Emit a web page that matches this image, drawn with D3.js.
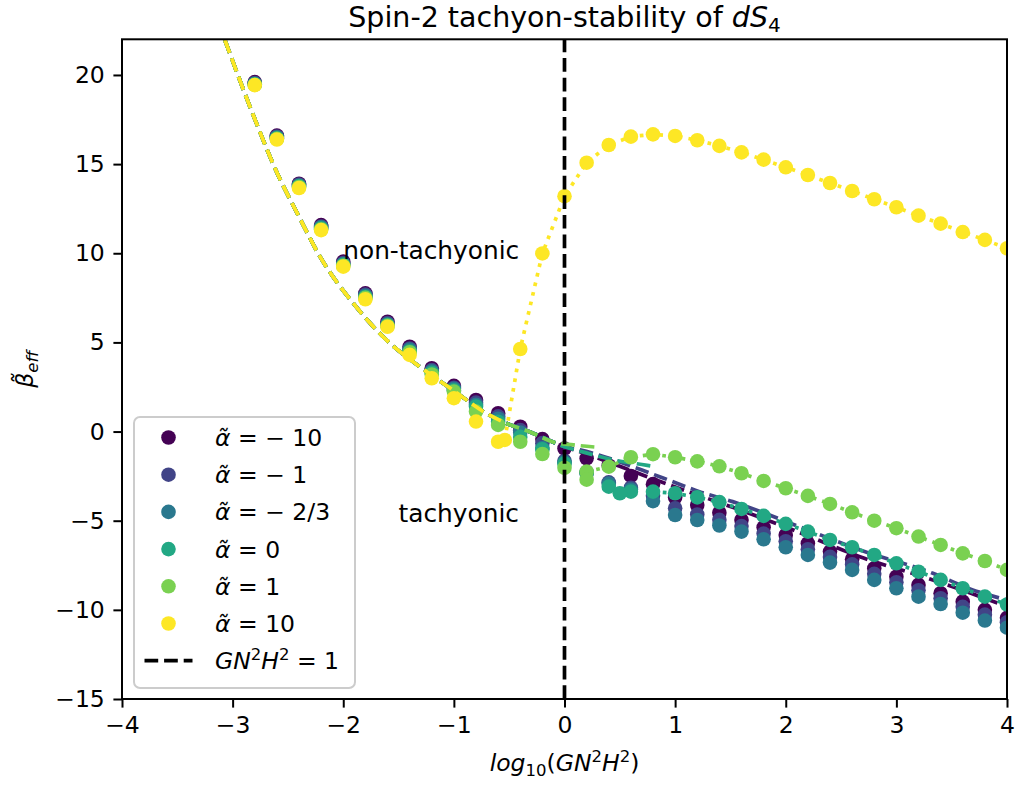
<!DOCTYPE html>
<html>
<head>
<meta charset="utf-8">
<script src="https://cdn.jsdelivr.net/npm/d3@7"></script>
<style>
  body { margin: 0; background: #fff; }
  text { font-family: "DejaVu Sans", sans-serif; fill: #000; }
</style>
</head>
<body>
<svg id="chart" width="1015" height="785"></svg>
<script>
// ---- sampled values of log10(G N^2 H^2) ----
const logGH2 = [-2.8,-2.6,-2.4,-2.2,-2.0,-1.8,-1.6,-1.4,-1.2,-1.0,-0.8,-0.6,-0.4,-0.2,0,
                0.2,0.4,0.6,0.8,1.0,1.2,1.4,1.6,1.8,2.0,2.2,2.4,2.6,2.8,3.0,3.2,3.4,3.6,3.8,4.0];

// ---- effective beta for each alpha ----
const betaAm10 = [19.6,16.6,13.9,11.58,9.53,7.75,6.16,4.76,3.55,2.56,1.77,1.03,0.27,-0.42,-0.95,
                  -1.5,-1.9,-2.49,-2.95,-3.7,-4.12,-4.55,-4.96,-5.37,-5.8,-6.27,-6.73,-7.16,-7.67,-8.14,-8.6,-9.07,-9.54,-10.0,-10.45];
const betaAm1  = [19.55,16.55,13.85,11.5,9.45,7.68,6.08,4.66,3.45,2.46,1.62,0.85,0.08,-0.65,-1.65,
                  -2.28,-2.85,-3.15,-3.6,-4.3,-4.65,-4.95,-5.3,-5.72,-6.15,-6.6,-7.03,-7.45,-7.98,-8.45,-8.9,-9.35,-9.83,-10.27,-10.7];
const betaAm23 = [19.5,16.5,13.8,11.45,9.4,7.62,6.02,4.6,3.38,2.4,1.5,0.72,-0.05,-0.92,-1.72,
                  -2.35,-2.92,-3.25,-3.9,-4.68,-4.96,-5.27,-5.61,-6.04,-6.49,-6.92,-7.35,-7.76,-8.32,-8.79,-9.26,-9.67,-10.16,-10.6,-11.0];
const betaA0   = [19.48,16.45,13.75,11.4,9.35,7.55,5.97,4.5,3.3,2.32,1.4,0.55,-0.3,-1.0,-1.8,
                  -2.3,-3.09,-3.37,-3.37,-3.46,-3.69,-3.96,-4.34,-4.73,-5.18,-5.61,-6.08,-6.49,-6.92,-7.39,-7.86,-8.32,-8.79,-9.26,-9.7];
const betaA1   = [19.45,16.42,13.72,11.35,9.3,7.5,5.93,4.45,3.2,2.24,1.12,0.37,-0.57,-1.26,-2.03,
                  -2.25,-1.97,-1.44,-1.27,-1.44,-1.67,-1.95,-2.34,-2.77,-3.18,-3.61,-4.06,-4.53,-5.0,-5.42,-5.89,-6.36,-6.83,-7.26,-7.76];
const betaA10  = [19.43,16.38,13.66,11.3,9.25,7.42,5.88,4.3,2.99,1.87,0.56,-0.57,4.63,9.99,13.2,
                  15.08,16.07,16.54,16.67,16.58,16.34,16.02,15.66,15.25,14.82,14.39,13.94,13.49,13.03,12.58,12.11,11.66,11.19,10.75,10.28];

// additional solutions found off the regular grid
const extraA0  = [[0.5, -3.46]];
const extraA1  = [[0.2, -2.7]];
const extraA10 = [[-0.54, -0.47]];

// ---- small-curvature approximation (shared branch) ----
const approxX = [-3.07,-2.82,-2.61,-2.4,-2.21,-1.91,-1.61,-1.31,-1.01,-0.71,-0.53,-0.3,-0.11,0];
const approxY = [21.96,17.85,14.67,12.05,9.81,7.2,5.14,3.64,2.33,1.03,0.47,-0.05,-0.57,-0.85];

// ---- large-curvature continuations of the approximation ----
const tailAm10X = [0,0.14,0.5,0.95,1.52,2.12,2.67,3.33,4.0];
const tailAm10Y = [-0.85,-1.13,-1.95,-3.0,-4.25,-5.65,-7.02,-8.32,-9.82];
const tailAm1X  = [0,0.14,0.86,1.22,1.52,2.12,2.67,3.33,3.69,4.0];
const tailAm1Y  = [-0.85,-1.03,-2.53,-3.37,-3.93,-5.33,-6.64,-7.95,-8.88,-9.45];
const tailA0X   = [0,0.14,0.45,0.7,0.8];
const tailA0Y   = [-0.85,-1.1,-1.6,-1.85,-1.95];
const tailA1X   = [0.08,0.3];
const tailA1Y   = [-0.75,-0.88];

// ---- axes ----
const xTicks = [-4,-3,-2,-1,0,1,2,3,4];
const yTicks = [-15,-10,-5,0,5,10,15,20];
const xDomain = [-4, 4];
const yDomain = [-15, 22];

const alphaLabels = ["\u2212 10", "\u2212 1", "\u2212 2/3", "0", "1", "10"];
const alphaColors = ["#440154", "#414487", "#2a788e", "#22a884", "#7ad151", "#fde725"];

// ---------------------------------------------------------------
const W = 1015, H = 785;
const plot = { left: 122, right: 1007, top: 39.3, bottom: 699 };
const FS = 23.5;          // tick / legend font size (10pt)
const FS_NOTE = 24.8;     // region annotations
const LW = 3.7;           // default line width (1.5pt)
const DASH = `${(3.7*LW).toFixed(1)},${(1.6*LW).toFixed(1)}`;
const DOT  = `${(1*LW).toFixed(1)},${(1.65*LW).toFixed(1)}`;
const R = 7.3;

const svg = d3.select("#chart");
const x = d3.scaleLinear().domain(xDomain).range([plot.left, plot.right]);
const y = d3.scaleLinear().domain(yDomain).range([plot.bottom, plot.top]);

const zip = (xs, ys) => xs.map((v, i) => [v, ys[i]]);
const approxPts = zip(approxX, approxY);
const gridPts = ys => zip(logGH2, ys);

const series = [
  { beta: betaAm10, extra: [], approx: approxPts.filter(d => d[0] < 0).concat(zip(tailAm10X, tailAm10Y)), dotted: [] },
  { beta: betaAm1,  extra: [], approx: approxPts.filter(d => d[0] < 0).concat(zip(tailAm1X, tailAm1Y)), dotted: [] },
  { beta: betaAm23, extra: [], approx: approxPts, dotted: [] },
  { beta: betaA0,   extra: extraA0, approx: approxPts.filter(d => d[0] < 0).concat(zip(tailA0X, tailA0Y)),
    dotted: gridPts(betaA0).filter(d => d[0] >= 0.8) },
  { beta: betaA1,   extra: extraA1, approx: approxPts.filter(d => d[0] <= -0.11).concat(zip(tailA1X, tailA1Y)),
    dotted: gridPts(betaA1).filter(d => d[0] >= 0.2) },
  { beta: betaA10,  extra: extraA10, approx: approxPts.filter(d => d[0] <= -0.53),
    dotted: extraA10.concat(gridPts(betaA10).filter(d => d[0] >= -0.4)) }
];
series.forEach((s, i) => { s.color = alphaColors[i]; s.label = alphaLabels[i]; });

const clipId = "plotclip";
svg.append("defs").append("clipPath").attr("id", clipId)
  .append("rect").attr("x", plot.left).attr("y", plot.top)
  .attr("width", plot.right - plot.left).attr("height", plot.bottom - plot.top);

const line = d3.line().x(d => x(d[0])).y(d => y(d[1])).curve(d3.curveMonotoneX);
const straight = d3.line().x(d => x(d[0])).y(d => y(d[1]));

const gData = svg.append("g").attr("clip-path", `url(#${clipId})`);

series.forEach(s => {
  gData.append("path").attr("d", line(s.approx))
    .attr("fill", "none").attr("stroke", s.color)
    .attr("stroke-width", LW).attr("stroke-dasharray", DASH);
  if (s.dotted.length) {
    gData.append("path").attr("d", straight(s.dotted))
      .attr("fill", "none").attr("stroke", s.color)
      .attr("stroke-width", LW).attr("stroke-dasharray", DOT);
  }
  const pts = gridPts(s.beta).concat(s.extra);
  gData.append("g").selectAll("circle").data(pts).join("circle")
    .attr("cx", d => x(d[0])).attr("cy", d => y(d[1])).attr("r", R)
    .attr("fill", s.color);
});

// G N^2 H^2 = 1
gData.append("line")
  .attr("x1", x(0)).attr("x2", x(0)).attr("y1", plot.bottom).attr("y2", plot.top)
  .attr("stroke", "#000").attr("stroke-width", LW).attr("stroke-dasharray", DASH);

// ---- region annotations ----
svg.append("text").attr("x", x(-2)).attr("y", y(10.2)).attr("dy", "0.36em")
  .attr("font-size", FS_NOTE).text("non-tachyonic");
svg.append("text").attr("x", x(-1.5)).attr("y", y(-4.6)).attr("dy", "0.36em")
  .attr("font-size", FS_NOTE).text("tachyonic");

// ---- axes ----
const tickLen = 8.6, tickPad = 8.6;
const xAxis = d3.axisBottom(x).tickValues(xTicks).tickSize(tickLen).tickPadding(tickPad)
  .tickFormat(d => d < 0 ? "\u2212" + Math.abs(d) : String(d));
const yAxis = d3.axisLeft(y).tickValues(yTicks).tickSize(tickLen).tickPadding(tickPad)
  .tickFormat(d => d < 0 ? "\u2212" + Math.abs(d) : String(d));

const gx = svg.append("g").attr("transform", `translate(0,${plot.bottom})`).call(xAxis);
const gy = svg.append("g").attr("transform", `translate(${plot.left},0)`).call(yAxis);
[gx, gy].forEach(g => {
  g.select(".domain").remove();
  g.selectAll(".tick line").attr("stroke", "#000").attr("stroke-width", 2);
  g.selectAll(".tick text").attr("font-size", FS).attr("font-family", "DejaVu Sans").attr("fill", "#000");
});

svg.append("rect").attr("x", plot.left).attr("y", plot.top)
  .attr("width", plot.right - plot.left).attr("height", plot.bottom - plot.top)
  .attr("fill", "none").attr("stroke", "#000").attr("stroke-width", 2);

// ---- title ----
const title = svg.append("text").attr("x", (plot.left + plot.right) / 2).attr("y", 27)
  .attr("text-anchor", "middle").attr("font-size", 28.5);
title.append("tspan").text("Spin-2 tachyon-stability of ");
title.append("tspan").attr("font-style", "italic").text("dS");
title.append("tspan").attr("font-size", 20).attr("dy", 5).text("4");

// ---- x label ----
const xl = svg.append("text").attr("x", (plot.left + plot.right) / 2).attr("y", 771)
  .attr("text-anchor", "middle").attr("font-size", FS);
xl.append("tspan").attr("font-style", "italic").text("log");
xl.append("tspan").attr("font-size", 16.5).attr("dy", 5).text("10");
xl.append("tspan").attr("dy", -5).text("(");
xl.append("tspan").attr("font-style", "italic").text("GN");
xl.append("tspan").attr("font-size", 16.5).attr("dy", -9).text("2");
xl.append("tspan").attr("font-style", "italic").attr("dy", 9).text("H");
xl.append("tspan").attr("font-size", 16.5).attr("dy", -9).text("2");
xl.append("tspan").attr("dy", 9).text(")");

// ---- y label ----
const yl = svg.append("text")
  .attr("transform", `translate(33,${(plot.top + plot.bottom) / 2}) rotate(-90)`)
  .attr("text-anchor", "middle").attr("font-size", FS);
yl.append("tspan").attr("font-style", "italic").text("\u03B2\u0303");
yl.append("tspan").attr("font-style", "italic").attr("font-size", 16.5).attr("dy", 5).text("eff");

// ---- legend ----
const lg = svg.append("g");
const lgBox = { x: 134, y: 417, w: 221, h: 271 };
lg.append("rect").attr("x", lgBox.x).attr("y", lgBox.y).attr("width", lgBox.w).attr("height", lgBox.h)
  .attr("rx", 6).attr("fill", "#fff").attr("fill-opacity", 0.8)
  .attr("stroke", "#cccccc").attr("stroke-width", 2);
const rowH = 37.2, row0 = 437.5, mX = 168.5, tX = 215;
series.forEach((s, i) => {
  const cy = row0 + i * rowH;
  lg.append("circle").attr("cx", mX).attr("cy", cy).attr("r", R).attr("fill", s.color);
  const t = lg.append("text").attr("x", tX).attr("y", cy).attr("dy", "0.36em").attr("font-size", FS);
  t.append("tspan").attr("font-style", "italic").text("\u03B1\u0303");
  t.append("tspan").text(" = " + s.label);
});
{
  const cy = row0 + 6 * rowH;
  lg.append("line").attr("x1", mX - 24).attr("x2", mX + 24).attr("y1", cy).attr("y2", cy)
    .attr("stroke", "#000").attr("stroke-width", LW).attr("stroke-dasharray", DASH);
  const t = lg.append("text").attr("x", tX).attr("y", cy).attr("dy", "0.36em").attr("font-size", FS);
  t.append("tspan").attr("font-style", "italic").text("GN");
  t.append("tspan").attr("font-size", 16.5).attr("dy", -9).text("2");
  t.append("tspan").attr("font-style", "italic").attr("dy", 9).text("H");
  t.append("tspan").attr("font-size", 16.5).attr("dy", -9).text("2");
  t.append("tspan").attr("dy", 9).text(" = 1");
}
</script>
</body>
</html>
